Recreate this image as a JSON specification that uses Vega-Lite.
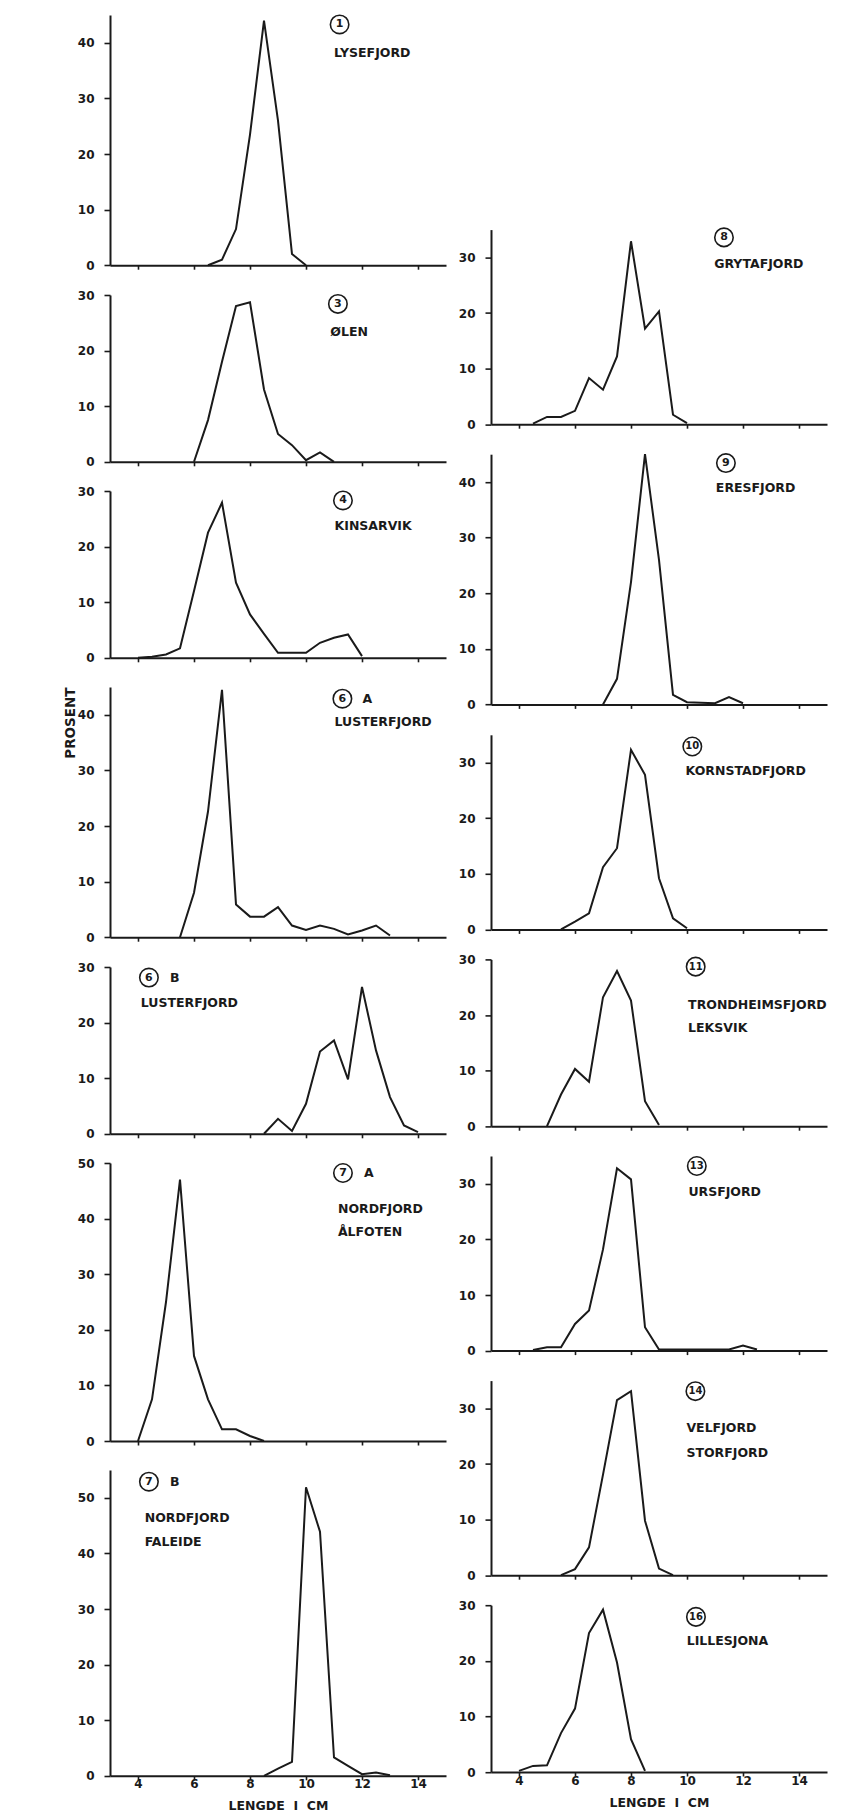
{
  "$schema": "https://vega.github.io/schema/vega-lite/v6.json",
  "background": "white",
  "padding": {"left": 63, "top": 12, "right": 5, "bottom": 4},
  "datasets": {
    "curves": [
      {"p":"1","cm":6.5,"pct":0},{"p":"1","cm":7,"pct":1},{"p":"1","cm":7.5,"pct":6.5},{"p":"1","cm":8,"pct":23.5},{"p":"1","cm":8.5,"pct":44},{"p":"1","cm":9,"pct":26},{"p":"1","cm":9.5,"pct":2},{"p":"1","cm":10,"pct":0},
      {"p":"3","cm":6,"pct":0},{"p":"3","cm":6.5,"pct":7.5},{"p":"3","cm":7,"pct":18},{"p":"3","cm":7.5,"pct":28},{"p":"3","cm":8,"pct":28.7},{"p":"3","cm":8.5,"pct":13},{"p":"3","cm":9,"pct":5},{"p":"3","cm":9.5,"pct":3},{"p":"3","cm":10,"pct":0.3},{"p":"3","cm":10.5,"pct":1.7},{"p":"3","cm":11,"pct":0},
      {"p":"4","cm":4,"pct":0},{"p":"4","cm":4.5,"pct":0.2},{"p":"4","cm":5,"pct":0.6},{"p":"4","cm":5.5,"pct":1.7},{"p":"4","cm":6,"pct":12},{"p":"4","cm":6.5,"pct":22.5},{"p":"4","cm":7,"pct":27.9},{"p":"4","cm":7.5,"pct":13.5},{"p":"4","cm":8,"pct":7.8},{"p":"4","cm":8.5,"pct":4.3},{"p":"4","cm":9,"pct":0.9},{"p":"4","cm":10,"pct":0.9},{"p":"4","cm":10.5,"pct":2.7},{"p":"4","cm":11,"pct":3.6},{"p":"4","cm":11.5,"pct":4.2},{"p":"4","cm":12,"pct":0.3},
      {"p":"6A","cm":5.5,"pct":0},{"p":"6A","cm":6,"pct":8},{"p":"6A","cm":6.5,"pct":22.6},{"p":"6A","cm":7,"pct":44.5},{"p":"6A","cm":7.5,"pct":5.9},{"p":"6A","cm":8,"pct":3.7},{"p":"6A","cm":8.5,"pct":3.7},{"p":"6A","cm":9,"pct":5.4},{"p":"6A","cm":9.5,"pct":2.1},{"p":"6A","cm":10,"pct":1.3},{"p":"6A","cm":10.5,"pct":2.1},{"p":"6A","cm":11,"pct":1.5},{"p":"6A","cm":11.5,"pct":0.5},{"p":"6A","cm":12,"pct":1.2},{"p":"6A","cm":12.5,"pct":2.1},{"p":"6A","cm":13,"pct":0.3},
      {"p":"6B","cm":8.5,"pct":0},{"p":"6B","cm":9,"pct":2.7},{"p":"6B","cm":9.5,"pct":0.5},{"p":"6B","cm":10,"pct":5.4},{"p":"6B","cm":10.5,"pct":14.8},{"p":"6B","cm":11,"pct":16.8},{"p":"6B","cm":11.5,"pct":9.8},{"p":"6B","cm":12,"pct":26.4},{"p":"6B","cm":12.5,"pct":15},{"p":"6B","cm":13,"pct":6.6},{"p":"6B","cm":13.5,"pct":1.5},{"p":"6B","cm":14,"pct":0.3},
      {"p":"7A","cm":4,"pct":0},{"p":"7A","cm":4.5,"pct":7.5},{"p":"7A","cm":5,"pct":25},{"p":"7A","cm":5.5,"pct":47},{"p":"7A","cm":6,"pct":15.3},{"p":"7A","cm":6.5,"pct":7.5},{"p":"7A","cm":7,"pct":2.1},{"p":"7A","cm":7.5,"pct":2.1},{"p":"7A","cm":8,"pct":0.9},{"p":"7A","cm":8.5,"pct":0},
      {"p":"7B","cm":8.5,"pct":0},{"p":"7B","cm":9,"pct":1.3},{"p":"7B","cm":9.5,"pct":2.5},{"p":"7B","cm":10,"pct":51.9},{"p":"7B","cm":10.5,"pct":43.9},{"p":"7B","cm":11,"pct":3.3},{"p":"7B","cm":11.5,"pct":1.8},{"p":"7B","cm":12,"pct":0.3},{"p":"7B","cm":12.5,"pct":0.6},{"p":"7B","cm":13,"pct":0.1},
      {"p":"8","cm":4.5,"pct":0.1},{"p":"8","cm":5,"pct":1.3},{"p":"8","cm":5.5,"pct":1.3},{"p":"8","cm":6,"pct":2.4},{"p":"8","cm":6.5,"pct":8.3},{"p":"8","cm":7,"pct":6.2},{"p":"8","cm":7.5,"pct":12.2},{"p":"8","cm":8,"pct":32.9},{"p":"8","cm":8.5,"pct":17.2},{"p":"8","cm":9,"pct":20.3},{"p":"8","cm":9.5,"pct":1.7},{"p":"8","cm":10,"pct":0.2},
      {"p":"9","cm":7,"pct":0},{"p":"9","cm":7.5,"pct":4.6},{"p":"9","cm":8,"pct":22},{"p":"9","cm":8.5,"pct":45},{"p":"9","cm":9,"pct":26},{"p":"9","cm":9.5,"pct":1.7},{"p":"9","cm":10,"pct":0.4},{"p":"9","cm":11,"pct":0.2},{"p":"9","cm":11.5,"pct":1.3},{"p":"9","cm":12,"pct":0.2},
      {"p":"10","cm":5.5,"pct":0},{"p":"10","cm":6,"pct":1.4},{"p":"10","cm":6.5,"pct":2.9},{"p":"10","cm":7,"pct":11.2},{"p":"10","cm":7.5,"pct":14.6},{"p":"10","cm":8,"pct":32.3},{"p":"10","cm":8.5,"pct":27.8},{"p":"10","cm":9,"pct":9.2},{"p":"10","cm":9.5,"pct":2},{"p":"10","cm":10,"pct":0.2},
      {"p":"11","cm":5,"pct":0},{"p":"11","cm":5.5,"pct":5.7},{"p":"11","cm":6,"pct":10.3},{"p":"11","cm":6.5,"pct":8},{"p":"11","cm":7,"pct":23.2},{"p":"11","cm":7.5,"pct":27.9},{"p":"11","cm":8,"pct":22.6},{"p":"11","cm":8.5,"pct":4.5},{"p":"11","cm":9,"pct":0.2},
      {"p":"13","cm":4.5,"pct":0.1},{"p":"13","cm":5,"pct":0.6},{"p":"13","cm":5.5,"pct":0.6},{"p":"13","cm":6,"pct":4.8},{"p":"13","cm":6.5,"pct":7.2},{"p":"13","cm":7,"pct":18.2},{"p":"13","cm":7.5,"pct":32.8},{"p":"13","cm":8,"pct":30.8},{"p":"13","cm":8.5,"pct":4.2},{"p":"13","cm":9,"pct":0.2},{"p":"13","cm":11.5,"pct":0.2},{"p":"13","cm":12,"pct":0.9},{"p":"13","cm":12.5,"pct":0.2},
      {"p":"14","cm":5.5,"pct":0},{"p":"14","cm":6,"pct":1.1},{"p":"14","cm":6.5,"pct":5},{"p":"14","cm":7,"pct":18.1},{"p":"14","cm":7.5,"pct":31.5},{"p":"14","cm":8,"pct":33.1},{"p":"14","cm":8.5,"pct":9.8},{"p":"14","cm":9,"pct":1.2},{"p":"14","cm":9.5,"pct":0},
      {"p":"16","cm":4,"pct":0.2},{"p":"16","cm":4.5,"pct":1.1},{"p":"16","cm":5,"pct":1.2},{"p":"16","cm":5.5,"pct":7},{"p":"16","cm":6,"pct":11.4},{"p":"16","cm":6.5,"pct":25},{"p":"16","cm":7,"pct":29.2},{"p":"16","cm":7.5,"pct":19.7},{"p":"16","cm":8,"pct":5.9},{"p":"16","cm":8.5,"pct":0.2}
    ],
    "labels": [
      {"p":"1","num":"1","suf":"","name":"LYSEFJORD"},
      {"p":"3","num":"3","suf":"","name":"ØLEN"},
      {"p":"4","num":"4","suf":"","name":"KINSARVIK"},
      {"p":"6A","num":"6","suf":"A","name":"LUSTERFJORD"},
      {"p":"6B","num":"6","suf":"B","name":"LUSTERFJORD"},
      {"p":"7A","num":"7","suf":"A","name":"NORDFJORD\nÅLFOTEN"},
      {"p":"7B","num":"7","suf":"B","name":"NORDFJORD\nFALEIDE"},
      {"p":"8","num":"8","suf":"","name":"GRYTAFJORD"},
      {"p":"9","num":"9","suf":"","name":"ERESFJORD"},
      {"p":"10","num":"10","suf":"","name":"KORNSTADFJORD"},
      {"p":"11","num":"11","suf":"","name":"TRONDHEIMSFJORD\nLEKSVIK"},
      {"p":"13","num":"13","suf":"","name":"URSFJORD"},
      {"p":"14","num":"14","suf":"","name":"VELFJORD\nSTORFJORD"},
      {"p":"16","num":"16","suf":"","name":"LILLESJONA"}
    ]
  },
  "config": {
    "view": {"stroke": null},
    "axis": {"domainColor":"#1a1a1a","domainWidth":2,"tickColor":"#1a1a1a","tickWidth":1.6,"labelColor":"#1a1a1a","labelFont":"DejaVu Sans","labelFontWeight":"bold","labelFontSize":12,"titleFont":"DejaVu Sans","titleFontWeight":"bold","titleFontSize":12.5,"titleColor":"#1a1a1a","grid":false,"labelFlush":false,"labelOverlap":false},
    "axisX": {"tickSize":4,"labelPadding":-1,"titlePadding":10},
    "axisY": {"tickSize":6,"labelPadding":10,"titleFontSize":13.5}
  },
  "spacing": 12,
  "hconcat": [
    {
      "spacing": 29,
      "bounds": "flush",
      "vconcat": [
        {"width":336,"height":250.2,"layer":[
          {"data":{"name":"curves"},"transform":[{"filter":"datum.p==='1'"}],"mark":{"type":"line","color":"#1a1a1a","strokeWidth":2},
           "encoding":{"x":{"field":"cm","type":"quantitative","scale":{"domain":[3,15]},"title":null,"axis":{"values":[4,5,6,7,8,9,10,11,12,13,14],"labels":false}},
                       "y":{"field":"pct","type":"quantitative","scale":{"domain":[0,45]},"title":null,"axis":{"values":[0,5,10,15,20,25,30,35,40,45],"labelExpr":"datum.value % 10 === 0 ? datum.label : ''"}}}},
          {"data":{"name":"labels"},"transform":[{"filter":"datum.p==='1'"}],"mark":{"type":"point","shape":"circle","size":340,"filled":false,"color":"#1a1a1a","strokeWidth":1.6,"opacity":1},"encoding":{"x":{"datum":11.2},"y":{"datum":43.3}}},
          {"data":{"name":"labels"},"transform":[{"filter":"datum.p==='1'"}],"mark":{"type":"text","fontSize":11,"fontWeight":"bold","font":"DejaVu Sans","color":"#1a1a1a"},"encoding":{"x":{"datum":11.2},"y":{"datum":43.3},"text":{"field":"num"}}},
          {"data":{"name":"labels"},"transform":[{"filter":"datum.p==='1'"}],"mark":{"type":"text","align":"left","baseline":"middle","fontSize":12.5,"fontWeight":"bold","font":"DejaVu Sans","color":"#1a1a1a","lineBreak":"\n","lineHeight":23},"encoding":{"x":{"datum":11.0},"y":{"datum":38.1},"text":{"field":"name"}}}
        ]},
        {"width":336,"height":166.8,"layer":[
          {"data":{"name":"curves"},"transform":[{"filter":"datum.p==='3'"}],"mark":{"type":"line","color":"#1a1a1a","strokeWidth":2},
           "encoding":{"x":{"field":"cm","type":"quantitative","scale":{"domain":[3,15]},"title":null,"axis":{"values":[4,5,6,7,8,9,10,11,12,13,14],"labels":false}},
                       "y":{"field":"pct","type":"quantitative","scale":{"domain":[0,30]},"title":null,"axis":{"values":[0,5,10,15,20,25,30],"labelExpr":"datum.value % 10 === 0 ? datum.label : ''"}}}},
          {"data":{"name":"labels"},"transform":[{"filter":"datum.p==='3'"}],"mark":{"type":"point","shape":"circle","size":340,"filled":false,"color":"#1a1a1a","strokeWidth":1.6,"opacity":1},"encoding":{"x":{"datum":11.14},"y":{"datum":28.4}}},
          {"data":{"name":"labels"},"transform":[{"filter":"datum.p==='3'"}],"mark":{"type":"text","fontSize":11,"fontWeight":"bold","font":"DejaVu Sans","color":"#1a1a1a"},"encoding":{"x":{"datum":11.14},"y":{"datum":28.4},"text":{"field":"num"}}},
          {"data":{"name":"labels"},"transform":[{"filter":"datum.p==='3'"}],"mark":{"type":"text","align":"left","baseline":"middle","fontSize":12.5,"fontWeight":"bold","font":"DejaVu Sans","color":"#1a1a1a","lineBreak":"\n","lineHeight":23},"encoding":{"x":{"datum":10.87},"y":{"datum":23.3},"text":{"field":"name"}}}
        ]},
        {"width":336,"height":166.8,"layer":[
          {"data":{"name":"curves"},"transform":[{"filter":"datum.p==='4'"}],"mark":{"type":"line","color":"#1a1a1a","strokeWidth":2},
           "encoding":{"x":{"field":"cm","type":"quantitative","scale":{"domain":[3,15]},"title":null,"axis":{"values":[4,5,6,7,8,9,10,11,12,13,14],"labels":false}},
                       "y":{"field":"pct","type":"quantitative","scale":{"domain":[0,30]},"title":null,"axis":{"values":[0,5,10,15,20,25,30],"labelExpr":"datum.value % 10 === 0 ? datum.label : ''"}}}},
          {"data":{"name":"labels"},"transform":[{"filter":"datum.p==='4'"}],"mark":{"type":"point","shape":"circle","size":340,"filled":false,"color":"#1a1a1a","strokeWidth":1.6,"opacity":1},"encoding":{"x":{"datum":11.32},"y":{"datum":28.3}}},
          {"data":{"name":"labels"},"transform":[{"filter":"datum.p==='4'"}],"mark":{"type":"text","fontSize":11,"fontWeight":"bold","font":"DejaVu Sans","color":"#1a1a1a"},"encoding":{"x":{"datum":11.32},"y":{"datum":28.3},"text":{"field":"num"}}},
          {"data":{"name":"labels"},"transform":[{"filter":"datum.p==='4'"}],"mark":{"type":"text","align":"left","baseline":"middle","fontSize":12.5,"fontWeight":"bold","font":"DejaVu Sans","color":"#1a1a1a","lineBreak":"\n","lineHeight":23},"encoding":{"x":{"datum":11.02},"y":{"datum":23.7},"text":{"field":"name"}}}
        ]},
        {"width":336,"height":250.2,"layer":[
          {"data":{"name":"curves"},"transform":[{"filter":"datum.p==='6A'"}],"mark":{"type":"line","color":"#1a1a1a","strokeWidth":2},
           "encoding":{"x":{"field":"cm","type":"quantitative","scale":{"domain":[3,15]},"title":null,"axis":{"values":[4,5,6,7,8,9,10,11,12,13,14],"labels":false}},
                       "y":{"field":"pct","type":"quantitative","scale":{"domain":[0,45]},"axis":{"title":"PROSENT","titleAnchor":"end","titlePadding":0,"values":[0,5,10,15,20,25,30,35,40,45],"labelExpr":"datum.value % 10 === 0 ? datum.label : ''"}}}},
          {"data":{"name":"labels"},"transform":[{"filter":"datum.p==='6A'"}],"mark":{"type":"point","shape":"circle","size":340,"filled":false,"color":"#1a1a1a","strokeWidth":1.6,"opacity":1},"encoding":{"x":{"datum":11.3},"y":{"datum":42.9}}},
          {"data":{"name":"labels"},"transform":[{"filter":"datum.p==='6A'"}],"mark":{"type":"text","fontSize":11,"fontWeight":"bold","font":"DejaVu Sans","color":"#1a1a1a"},"encoding":{"x":{"datum":11.3},"y":{"datum":42.9},"text":{"field":"num"}}},
          {"data":{"name":"labels"},"transform":[{"filter":"datum.p==='6A'"}],"mark":{"type":"text","align":"left","baseline":"middle","dx":20,"fontSize":12.5,"fontWeight":"bold","font":"DejaVu Sans","color":"#1a1a1a"},"encoding":{"x":{"datum":11.3},"y":{"datum":42.9},"text":{"field":"suf"}}},
          {"data":{"name":"labels"},"transform":[{"filter":"datum.p==='6A'"}],"mark":{"type":"text","align":"left","baseline":"middle","fontSize":12.5,"fontWeight":"bold","font":"DejaVu Sans","color":"#1a1a1a","lineBreak":"\n","lineHeight":23},"encoding":{"x":{"datum":11.02},"y":{"datum":38.7},"text":{"field":"name"}}}
        ]},
        {"width":336,"height":166.8,"layer":[
          {"data":{"name":"curves"},"transform":[{"filter":"datum.p==='6B'"}],"mark":{"type":"line","color":"#1a1a1a","strokeWidth":2},
           "encoding":{"x":{"field":"cm","type":"quantitative","scale":{"domain":[3,15]},"title":null,"axis":{"values":[4,5,6,7,8,9,10,11,12,13,14],"labels":false}},
                       "y":{"field":"pct","type":"quantitative","scale":{"domain":[0,30]},"title":null,"axis":{"values":[0,5,10,15,20,25,30],"labelExpr":"datum.value % 10 === 0 ? datum.label : ''"}}}},
          {"data":{"name":"labels"},"transform":[{"filter":"datum.p==='6B'"}],"mark":{"type":"point","shape":"circle","size":340,"filled":false,"color":"#1a1a1a","strokeWidth":1.6,"opacity":1},"encoding":{"x":{"datum":4.39},"y":{"datum":28.1}}},
          {"data":{"name":"labels"},"transform":[{"filter":"datum.p==='6B'"}],"mark":{"type":"text","fontSize":11,"fontWeight":"bold","font":"DejaVu Sans","color":"#1a1a1a"},"encoding":{"x":{"datum":4.39},"y":{"datum":28.1},"text":{"field":"num"}}},
          {"data":{"name":"labels"},"transform":[{"filter":"datum.p==='6B'"}],"mark":{"type":"text","align":"left","baseline":"middle","dx":21,"fontSize":12.5,"fontWeight":"bold","font":"DejaVu Sans","color":"#1a1a1a"},"encoding":{"x":{"datum":4.39},"y":{"datum":28.1},"text":{"field":"suf"}}},
          {"data":{"name":"labels"},"transform":[{"filter":"datum.p==='6B'"}],"mark":{"type":"text","align":"left","baseline":"middle","fontSize":12.5,"fontWeight":"bold","font":"DejaVu Sans","color":"#1a1a1a","lineBreak":"\n","lineHeight":23},"encoding":{"x":{"datum":4.1},"y":{"datum":23.5},"text":{"field":"name"}}}
        ]},
        {"width":336,"height":278,"layer":[
          {"data":{"name":"curves"},"transform":[{"filter":"datum.p==='7A'"}],"mark":{"type":"line","color":"#1a1a1a","strokeWidth":2},
           "encoding":{"x":{"field":"cm","type":"quantitative","scale":{"domain":[3,15]},"title":null,"axis":{"values":[4,5,6,7,8,9,10,11,12,13,14],"labels":false}},
                       "y":{"field":"pct","type":"quantitative","scale":{"domain":[0,50]},"title":null,"axis":{"values":[0,5,10,15,20,25,30,35,40,45,50],"labelExpr":"datum.value % 10 === 0 ? datum.label : ''"}}}},
          {"data":{"name":"labels"},"transform":[{"filter":"datum.p==='7A'"}],"mark":{"type":"point","shape":"circle","size":340,"filled":false,"color":"#1a1a1a","strokeWidth":1.6,"opacity":1},"encoding":{"x":{"datum":11.32},"y":{"datum":48.2}}},
          {"data":{"name":"labels"},"transform":[{"filter":"datum.p==='7A'"}],"mark":{"type":"text","fontSize":11,"fontWeight":"bold","font":"DejaVu Sans","color":"#1a1a1a"},"encoding":{"x":{"datum":11.32},"y":{"datum":48.2},"text":{"field":"num"}}},
          {"data":{"name":"labels"},"transform":[{"filter":"datum.p==='7A'"}],"mark":{"type":"text","align":"left","baseline":"middle","dx":21,"fontSize":12.5,"fontWeight":"bold","font":"DejaVu Sans","color":"#1a1a1a"},"encoding":{"x":{"datum":11.32},"y":{"datum":48.2},"text":{"field":"suf"}}},
          {"data":{"name":"labels"},"transform":[{"filter":"datum.p==='7A'"}],"mark":{"type":"text","align":"left","baseline":"middle","fontSize":12.5,"fontWeight":"bold","font":"DejaVu Sans","color":"#1a1a1a","lineBreak":"\n","lineHeight":23},"encoding":{"x":{"datum":11.14},"y":{"datum":41.7},"text":{"field":"name"}}}
        ]},
        {"width":336,"height":305.8,"layer":[
          {"data":{"name":"curves"},"transform":[{"filter":"datum.p==='7B'"}],"mark":{"type":"line","color":"#1a1a1a","strokeWidth":2},
           "encoding":{"x":{"field":"cm","type":"quantitative","scale":{"domain":[3,15]},"title":"LENGDE\u00a0\u00a0I\u00a0\u00a0CM","axis":{"values":[4,5,6,7,8,9,10,11,12,13,14],"labelExpr":"datum.value % 2 === 0 ? datum.label : ''"}},
                       "y":{"field":"pct","type":"quantitative","scale":{"domain":[0,55]},"title":null,"axis":{"values":[0,5,10,15,20,25,30,35,40,45,50,55],"labelExpr":"datum.value % 10 === 0 ? datum.label : ''"}}}},
          {"data":{"name":"labels"},"transform":[{"filter":"datum.p==='7B'"}],"mark":{"type":"point","shape":"circle","size":340,"filled":false,"color":"#1a1a1a","strokeWidth":1.6,"opacity":1},"encoding":{"x":{"datum":4.39},"y":{"datum":52.9}}},
          {"data":{"name":"labels"},"transform":[{"filter":"datum.p==='7B'"}],"mark":{"type":"text","fontSize":11,"fontWeight":"bold","font":"DejaVu Sans","color":"#1a1a1a"},"encoding":{"x":{"datum":4.39},"y":{"datum":52.9},"text":{"field":"num"}}},
          {"data":{"name":"labels"},"transform":[{"filter":"datum.p==='7B'"}],"mark":{"type":"text","align":"left","baseline":"middle","dx":21,"fontSize":12.5,"fontWeight":"bold","font":"DejaVu Sans","color":"#1a1a1a"},"encoding":{"x":{"datum":4.39},"y":{"datum":52.9},"text":{"field":"suf"}}},
          {"data":{"name":"labels"},"transform":[{"filter":"datum.p==='7B'"}],"mark":{"type":"text","align":"left","baseline":"middle","fontSize":12.5,"fontWeight":"bold","font":"DejaVu Sans","color":"#1a1a1a","lineBreak":"\n","lineHeight":24},"encoding":{"x":{"datum":4.24},"y":{"datum":46.35},"text":{"field":"name"}}}
        ]}
      ]
    },
    {
      "spacing": 29.6,
      "bounds": "flush",
      "vconcat": [
        {"width":336,"height":184.7,"data":{"values":[{"t":""}]},"mark":{"type":"text"},"encoding":{"text":{"field":"t"}}},
        {"width":336,"height":194.6,"layer":[
          {"data":{"name":"curves"},"transform":[{"filter":"datum.p==='8'"}],"mark":{"type":"line","color":"#1a1a1a","strokeWidth":2},
           "encoding":{"x":{"field":"cm","type":"quantitative","scale":{"domain":[3,15]},"title":null,"axis":{"values":[4,5,6,7,8,9,10,11,12,13,14],"labels":false}},
                       "y":{"field":"pct","type":"quantitative","scale":{"domain":[0,35]},"title":null,"axis":{"values":[0,5,10,15,20,25,30,35],"labelExpr":"datum.value % 10 === 0 ? datum.label : ''"}}}},
          {"data":{"name":"labels"},"transform":[{"filter":"datum.p==='8'"}],"mark":{"type":"point","shape":"circle","size":340,"filled":false,"color":"#1a1a1a","strokeWidth":1.6,"opacity":1},"encoding":{"x":{"datum":11.32},"y":{"datum":33.6}}},
          {"data":{"name":"labels"},"transform":[{"filter":"datum.p==='8'"}],"mark":{"type":"text","fontSize":11,"fontWeight":"bold","font":"DejaVu Sans","color":"#1a1a1a"},"encoding":{"x":{"datum":11.32},"y":{"datum":33.6},"text":{"field":"num"}}},
          {"data":{"name":"labels"},"transform":[{"filter":"datum.p==='8'"}],"mark":{"type":"text","align":"left","baseline":"middle","fontSize":12.5,"fontWeight":"bold","font":"DejaVu Sans","color":"#1a1a1a","lineBreak":"\n","lineHeight":23},"encoding":{"x":{"datum":10.97},"y":{"datum":28.8},"text":{"field":"name"}}}
        ]},
        {"width":336,"height":250.2,"layer":[
          {"data":{"name":"curves"},"transform":[{"filter":"datum.p==='9'"}],"mark":{"type":"line","color":"#1a1a1a","strokeWidth":2},
           "encoding":{"x":{"field":"cm","type":"quantitative","scale":{"domain":[3,15]},"title":null,"axis":{"values":[4,5,6,7,8,9,10,11,12,13,14],"labels":false}},
                       "y":{"field":"pct","type":"quantitative","scale":{"domain":[0,45]},"title":null,"axis":{"values":[0,5,10,15,20,25,30,35,40,45],"labelExpr":"datum.value % 10 === 0 ? datum.label : ''"}}}},
          {"data":{"name":"labels"},"transform":[{"filter":"datum.p==='9'"}],"mark":{"type":"point","shape":"circle","size":340,"filled":false,"color":"#1a1a1a","strokeWidth":1.6,"opacity":1},"encoding":{"x":{"datum":11.39},"y":{"datum":43.4}}},
          {"data":{"name":"labels"},"transform":[{"filter":"datum.p==='9'"}],"mark":{"type":"text","fontSize":11,"fontWeight":"bold","font":"DejaVu Sans","color":"#1a1a1a"},"encoding":{"x":{"datum":11.39},"y":{"datum":43.4},"text":{"field":"num"}}},
          {"data":{"name":"labels"},"transform":[{"filter":"datum.p==='9'"}],"mark":{"type":"text","align":"left","baseline":"middle","fontSize":12.5,"fontWeight":"bold","font":"DejaVu Sans","color":"#1a1a1a","lineBreak":"\n","lineHeight":23},"encoding":{"x":{"datum":11.03},"y":{"datum":39},"text":{"field":"name"}}}
        ]},
        {"width":336,"height":194.6,"layer":[
          {"data":{"name":"curves"},"transform":[{"filter":"datum.p==='10'"}],"mark":{"type":"line","color":"#1a1a1a","strokeWidth":2},
           "encoding":{"x":{"field":"cm","type":"quantitative","scale":{"domain":[3,15]},"title":null,"axis":{"values":[4,5,6,7,8,9,10,11,12,13,14],"labels":false}},
                       "y":{"field":"pct","type":"quantitative","scale":{"domain":[0,35]},"title":null,"axis":{"values":[0,5,10,15,20,25,30,35],"labelExpr":"datum.value % 10 === 0 ? datum.label : ''"}}}},
          {"data":{"name":"labels"},"transform":[{"filter":"datum.p==='10'"}],"mark":{"type":"point","shape":"circle","size":340,"filled":false,"color":"#1a1a1a","strokeWidth":1.6,"opacity":1},"encoding":{"x":{"datum":10.19},"y":{"datum":32.9}}},
          {"data":{"name":"labels"},"transform":[{"filter":"datum.p==='10'"}],"mark":{"type":"text","fontSize":10,"fontWeight":"bold","font":"DejaVu Sans","color":"#1a1a1a"},"encoding":{"x":{"datum":10.19},"y":{"datum":32.9},"text":{"field":"num"}}},
          {"data":{"name":"labels"},"transform":[{"filter":"datum.p==='10'"}],"mark":{"type":"text","align":"left","baseline":"middle","fontSize":12.5,"fontWeight":"bold","font":"DejaVu Sans","color":"#1a1a1a","lineBreak":"\n","lineHeight":23},"encoding":{"x":{"datum":9.95},"y":{"datum":28.5},"text":{"field":"name"}}}
        ]},
        {"width":336,"height":166.8,"layer":[
          {"data":{"name":"curves"},"transform":[{"filter":"datum.p==='11'"}],"mark":{"type":"line","color":"#1a1a1a","strokeWidth":2},
           "encoding":{"x":{"field":"cm","type":"quantitative","scale":{"domain":[3,15]},"title":null,"axis":{"values":[4,5,6,7,8,9,10,11,12,13,14],"labels":false}},
                       "y":{"field":"pct","type":"quantitative","scale":{"domain":[0,30]},"title":null,"axis":{"values":[0,5,10,15,20,25,30],"labelExpr":"datum.value % 10 === 0 ? datum.label : ''"}}}},
          {"data":{"name":"labels"},"transform":[{"filter":"datum.p==='11'"}],"mark":{"type":"point","shape":"circle","size":340,"filled":false,"color":"#1a1a1a","strokeWidth":1.6,"opacity":1},"encoding":{"x":{"datum":10.31},"y":{"datum":28.7}}},
          {"data":{"name":"labels"},"transform":[{"filter":"datum.p==='11'"}],"mark":{"type":"text","fontSize":10,"fontWeight":"bold","font":"DejaVu Sans","color":"#1a1a1a"},"encoding":{"x":{"datum":10.31},"y":{"datum":28.7},"text":{"field":"num"}}},
          {"data":{"name":"labels"},"transform":[{"filter":"datum.p==='11'"}],"mark":{"type":"text","align":"left","baseline":"middle","fontSize":12.5,"fontWeight":"bold","font":"DejaVu Sans","color":"#1a1a1a","lineBreak":"\n","lineHeight":23},"encoding":{"x":{"datum":10.04},"y":{"datum":21.75},"text":{"field":"name"}}}
        ]},
        {"width":336,"height":194.6,"layer":[
          {"data":{"name":"curves"},"transform":[{"filter":"datum.p==='13'"}],"mark":{"type":"line","color":"#1a1a1a","strokeWidth":2},
           "encoding":{"x":{"field":"cm","type":"quantitative","scale":{"domain":[3,15]},"title":null,"axis":{"values":[4,5,6,7,8,9,10,11,12,13,14],"labels":false}},
                       "y":{"field":"pct","type":"quantitative","scale":{"domain":[0,35]},"title":null,"axis":{"values":[0,5,10,15,20,25,30,35],"labelExpr":"datum.value % 10 === 0 ? datum.label : ''"}}}},
          {"data":{"name":"labels"},"transform":[{"filter":"datum.p==='13'"}],"mark":{"type":"point","shape":"circle","size":340,"filled":false,"color":"#1a1a1a","strokeWidth":1.6,"opacity":1},"encoding":{"x":{"datum":10.35},"y":{"datum":33.2}}},
          {"data":{"name":"labels"},"transform":[{"filter":"datum.p==='13'"}],"mark":{"type":"text","fontSize":10,"fontWeight":"bold","font":"DejaVu Sans","color":"#1a1a1a"},"encoding":{"x":{"datum":10.35},"y":{"datum":33.2},"text":{"field":"num"}}},
          {"data":{"name":"labels"},"transform":[{"filter":"datum.p==='13'"}],"mark":{"type":"text","align":"left","baseline":"middle","fontSize":12.5,"fontWeight":"bold","font":"DejaVu Sans","color":"#1a1a1a","lineBreak":"\n","lineHeight":23},"encoding":{"x":{"datum":10.05},"y":{"datum":28.6},"text":{"field":"name"}}}
        ]},
        {"width":336,"height":194.6,"layer":[
          {"data":{"name":"curves"},"transform":[{"filter":"datum.p==='14'"}],"mark":{"type":"line","color":"#1a1a1a","strokeWidth":2},
           "encoding":{"x":{"field":"cm","type":"quantitative","scale":{"domain":[3,15]},"title":null,"axis":{"values":[4,5,6,7,8,9,10,11,12,13,14],"labels":false}},
                       "y":{"field":"pct","type":"quantitative","scale":{"domain":[0,35]},"title":null,"axis":{"values":[0,5,10,15,20,25,30,35],"labelExpr":"datum.value % 10 === 0 ? datum.label : ''"}}}},
          {"data":{"name":"labels"},"transform":[{"filter":"datum.p==='14'"}],"mark":{"type":"point","shape":"circle","size":340,"filled":false,"color":"#1a1a1a","strokeWidth":1.6,"opacity":1},"encoding":{"x":{"datum":10.3},"y":{"datum":33.1}}},
          {"data":{"name":"labels"},"transform":[{"filter":"datum.p==='14'"}],"mark":{"type":"text","fontSize":10,"fontWeight":"bold","font":"DejaVu Sans","color":"#1a1a1a"},"encoding":{"x":{"datum":10.3},"y":{"datum":33.1},"text":{"field":"num"}}},
          {"data":{"name":"labels"},"transform":[{"filter":"datum.p==='14'"}],"mark":{"type":"text","align":"left","baseline":"middle","fontSize":12.5,"fontWeight":"bold","font":"DejaVu Sans","color":"#1a1a1a","lineBreak":"\n","lineHeight":25},"encoding":{"x":{"datum":9.98},"y":{"datum":26.55},"text":{"field":"name"}}}
        ]},
        {"width":336,"height":166.8,"layer":[
          {"data":{"name":"curves"},"transform":[{"filter":"datum.p==='16'"}],"mark":{"type":"line","color":"#1a1a1a","strokeWidth":2},
           "encoding":{"x":{"field":"cm","type":"quantitative","scale":{"domain":[3,15]},"title":"LENGDE\u00a0\u00a0I\u00a0\u00a0CM","axis":{"values":[4,5,6,7,8,9,10,11,12,13,14],"labelExpr":"datum.value % 2 === 0 ? datum.label : ''"}},
                       "y":{"field":"pct","type":"quantitative","scale":{"domain":[0,30]},"title":null,"axis":{"values":[0,5,10,15,20,25,30],"labelExpr":"datum.value % 10 === 0 ? datum.label : ''"}}}},
          {"data":{"name":"labels"},"transform":[{"filter":"datum.p==='16'"}],"mark":{"type":"point","shape":"circle","size":340,"filled":false,"color":"#1a1a1a","strokeWidth":1.6,"opacity":1},"encoding":{"x":{"datum":10.32},"y":{"datum":27.9}}},
          {"data":{"name":"labels"},"transform":[{"filter":"datum.p==='16'"}],"mark":{"type":"text","fontSize":10,"fontWeight":"bold","font":"DejaVu Sans","color":"#1a1a1a"},"encoding":{"x":{"datum":10.32},"y":{"datum":27.9},"text":{"field":"num"}}},
          {"data":{"name":"labels"},"transform":[{"filter":"datum.p==='16'"}],"mark":{"type":"text","align":"left","baseline":"middle","fontSize":12.5,"fontWeight":"bold","font":"DejaVu Sans","color":"#1a1a1a","lineBreak":"\n","lineHeight":23},"encoding":{"x":{"datum":9.99},"y":{"datum":23.6},"text":{"field":"name"}}}
        ]}
      ]
    }
  ]
}
